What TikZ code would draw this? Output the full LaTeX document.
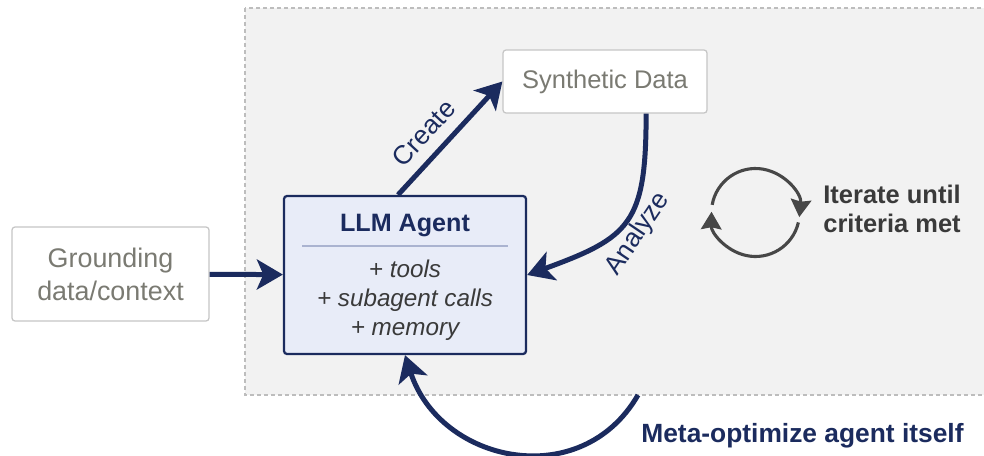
\documentclass[tikz,border=0pt]{standalone}
\usepackage{fontspec}
\setmainfont{Liberation Sans}
\usetikzlibrary{arrows.meta}

\definecolor{navy}{HTML}{1B2B5E}
\definecolor{agentfill}{HTML}{E8ECF8}
\definecolor{boxgrey}{HTML}{C6C6C6}
\definecolor{softgrey}{HTML}{7A7A72}
\definecolor{itemgrey}{HTML}{3A3A3A}
\definecolor{loopgrey}{HTML}{474747}
\definecolor{regionfill}{HTML}{F2F2F2}
\definecolor{regionline}{HTML}{BDBDBD}
\definecolor{sepblue}{HTML}{AAB3D0}

\begin{document}
\begin{tikzpicture}[x=0.2mm,y=0.2mm,
  box/.style={draw=boxgrey,fill=white,rounded corners=0.6mm,line width=0.25mm,text=softgrey},
  agentbox/.style={draw=navy,fill=agentfill,rounded corners=0.6mm,line width=0.45mm},
  flow/.style={draw=navy,line width=1mm,-{Stealth[length=5.2mm,width=6mm,inset=1.3mm]}},
  flowlbl/.style={text=navy,inner sep=0,font=\fontsize{15}{18}\selectfont},
  loopline/.style={draw=loopgrey,line width=0.62mm,-{Stealth[length=3.5mm,width=4.1mm,inset=0.4mm]}},
  region/.style={fill=regionfill,draw=regionline,line width=0.25mm,dash pattern=on 0.8mm off 0.6mm}]
\clip (0,0) rectangle (984,-455);
\fill[white] (0,0) rectangle (984,-455);
\draw[region] (245,-8) rectangle (1010,-395);

\node[box,minimum width=39.4mm,minimum height=18.8mm,align=center,font=\fontsize{15.3}{18.8}\selectfont] (ground) at (110.5,-274) {Grounding\\data/context};
\node[box,minimum width=40.8mm,minimum height=12.6mm,font=\fontsize{14.5}{17}\selectfont] (synth) at (605,-81.5) {Synthetic Data};
\node[agentbox,minimum width=48.4mm,minimum height=31.6mm] (agent) at (405,-275) {};
\node[anchor=base,inner sep=0,text=navy,font=\fontsize{14.3}{17}\selectfont\bfseries] (agenttitle) at (405,-231) {LLM Agent};
\draw[sepblue,line width=0.3mm] (302,-246) -- (508,-246);
\node[align=center,inner sep=0,text=itemgrey,font=\fontsize{13.8}{16.5}\selectfont\itshape] (agentitems) at (405,-300) {+ tools\\+ subagent calls\\+ memory};

\coordinate (loopc) at (755.5,-212.5);
\draw[loopline] ([shift={(170:44)}]loopc) arc[start angle=170,end angle=-6,radius=44];
\draw[loopline] ([shift={(-13:44)}]loopc) arc[start angle=-13,end angle=-181,radius=44];
\node[anchor=north west,inner sep=0,align=left,text=itemgrey,font=\fontsize{14.5}{16.5}\selectfont\bfseries] (iterate) at (823,-185) {Iterate until\\criteria met};
\node[anchor=base west,inner sep=0,text=navy,font=\fontsize{15}{18}\selectfont\bfseries] (metalbl) at (641,-442) {Meta-optimize agent itself};

\draw[flow] (ground) -- (agent);
\draw[flow] (agent.95) -- node[flowlbl,sloped,above=2.2mm,pos=0.41] (createlbl) {Create} (synth.west);
\draw[flow] (synth.322) to[out=-90,in=20,looseness=1.4] (agent.east);
\node[flowlbl,rotate=56] (analyzelbl) at (638,-234) {Analyze};
\coordinate (metastart) at (638,-395);
\draw[flow] (metastart) to[out=-120,in=-72,looseness=1.23] (agent.south);
\end{tikzpicture}
\end{document}
